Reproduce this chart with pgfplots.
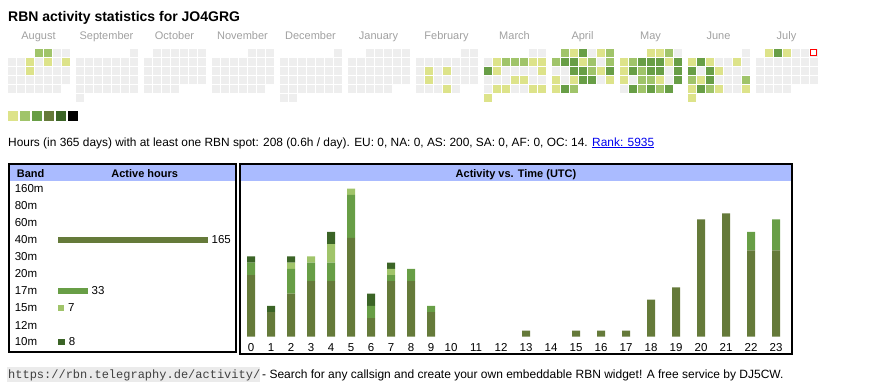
\documentclass[border=0pt]{standalone}
\usepackage{fontspec}
\setmainfont{Liberation Sans}
\setmonofont{Liberation Mono}
\usepackage{pgfplots}
\usepackage{pgfplotstable}
\pgfplotsset{compat=1.18}
\definecolor{lv0}{RGB}{238,238,238}
\definecolor{lv1}{RGB}{221,227,138}
\definecolor{lv2}{RGB}{160,196,106}
\definecolor{lv3}{RGB}{104,158,70}
\definecolor{lv4}{RGB}{101,122,58}
\definecolor{lv5}{RGB}{59,100,38}
\definecolor{lv6}{RGB}{0,0,0}
\definecolor{hdr}{RGB}{170,187,255}
\definecolor{monthgray}{RGB}{160,160,160}
\definecolor{linkblue}{RGB}{0,0,238}

\pgfplotsset{
  levels/.style={scatter, only marks, point meta=explicit symbolic,
    mark options={line width=0.3pt},
    scatter/classes={
      0={mark=square*, lv0},
      1={mark=square*, lv1},
      2={mark=square*, lv2},
      3={mark=square*, lv3},
      4={mark=square*, lv4},
      5={mark=square*, lv5},
      6={mark=square*, lv6}}}
}

% calendar: m = month block (0 = August ... 11 = July), r = week row, c1..c7 = Mon..Sun level (-1 = no day)
\pgfplotstableread{
m r c1 c2 c3 c4 c5 c6 c7
0 1 -1 -1 -1 2 2 0 0
0 2 0 0 1 0 1 0 1
0 3 0 0 1 0 0 0 0
0 4 0 0 0 0 0 0 0
0 5 0 0 0 0 0 0 -1
1 1 -1 -1 -1 -1 -1 -1 0
1 2 0 0 0 0 0 0 0
1 3 0 0 0 0 0 0 0
1 4 0 0 0 0 0 0 0
1 5 0 0 0 0 0 0 0
1 6 0 -1 -1 -1 -1 -1 -1
2 1 -1 0 0 0 0 0 0
2 2 0 0 0 0 0 0 0
2 3 0 0 0 0 0 0 0
2 4 0 0 0 0 0 0 0
2 5 0 0 0 0 -1 -1 -1
3 1 -1 -1 -1 -1 0 0 0
3 2 0 0 0 0 0 0 0
3 3 0 0 0 0 0 0 0
3 4 0 0 0 0 0 0 0
3 5 0 0 0 0 0 0 -1
4 1 -1 -1 -1 -1 -1 -1 0
4 2 0 0 0 0 0 0 0
4 3 0 0 0 0 0 0 0
4 4 0 0 0 0 0 0 0
4 5 0 0 0 0 0 0 0
4 6 0 0 -1 -1 -1 -1 -1
5 1 -1 -1 0 0 0 0 0
5 2 0 0 0 0 0 0 0
5 3 0 0 0 0 0 0 0
5 4 0 0 0 0 0 0 0
5 5 0 0 0 0 0 -1 -1
6 1 -1 -1 -1 -1 -1 0 0
6 2 0 0 0 0 0 0 0
6 3 0 1 0 1 0 0 0
6 4 0 1 0 0 0 0 0
6 5 0 0 0 1 0 -1 -1
7 1 -1 -1 -1 -1 -1 0 0
7 2 0 1 2 2 2 1 1
7 3 3 1 0 0 0 0 1
7 4 0 0 0 1 1 0 0
7 5 0 1 1 0 0 1 1
7 6 1 -1 -1 -1 -1 -1 -1
8 1 -1 2 1 3 0 1 2
8 2 2 3 3 1 2 0 2
8 3 0 0 3 3 2 1 3
8 4 1 0 1 3 3 0 1
8 5 1 3 2 -1 -1 -1 -1
9 1 -1 -1 -1 1 1 2 0
9 2 1 2 3 3 3 1 3
9 3 1 3 2 3 3 0 3
9 4 1 0 2 2 1 0 3
9 5 0 3 2 3 2 3 -1
10 1 -1 -1 -1 -1 -1 -1 0
10 2 1 3 1 0 0 1 0
10 3 3 0 3 1 0 0 0
10 4 2 1 3 0 0 0 2
10 5 1 3 2 1 0 0 1
10 6 1 -1 -1 -1 -1 -1 -1
11 1 -1 1 3 1 0 0 0
11 2 0 0 0 0 0 0 0
11 3 0 0 0 0 0 0 0
11 4 0 0 0 0 0 0 0
11 5 0 0 0 0 -1 -1 -1
}\heat

\begin{document}
\begin{tikzpicture}
\useasboundingbox (0,0) rectangle (870pt,-390pt);
% ---------- page-level axis in pixel units: calendar heat map, texts, frames
\begin{axis}[at={(0pt,0pt)}, anchor=north west, scale only axis,
  width=870pt, height=390pt, xmin=0, xmax=870, ymin=0, ymax=390, y dir=reverse,
  hide axis, clip=false]
\pgfplotsinvokeforeach{1,...,7}{
  \addplot[levels, mark size=3.55pt]
    table[x expr={11.5+9*(#1-1)+68*\thisrow{m}}, y expr={52.3+9*(\thisrow{r}-1)},
          meta=c#1, restrict expr to domain={\thisrow{c#1}}{0:6}] {\heat};
}
% today
\addplot[only marks, mark=square*, mark size=3.3pt,
  mark options={draw=red, fill=white, line width=0.9pt}] coordinates {(813.5,52.3)};
% legend squares
\addplot[levels, mark size=4.6pt]
  coordinates {(12.8,116) [1] (24.8,116) [2] (36.8,116) [3] (48.8,116) [4] (60.8,116) [5] (72.8,116) [6]};

% title and month names
\node[anchor=base west, inner sep=0pt, font=\fontsize{14}{17}\selectfont\bfseries] at (8,21.5) {RBN activity statistics for JO4GRG};
\node[anchor=base, inner sep=0pt, text=monthgray, font=\fontsize{11}{13}\selectfont] at (38.5,39) {August};
\node[anchor=base, inner sep=0pt, text=monthgray, font=\fontsize{11}{13}\selectfont] at (106.5,39) {September};
\node[anchor=base, inner sep=0pt, text=monthgray, font=\fontsize{11}{13}\selectfont] at (174.5,39) {October};
\node[anchor=base, inner sep=0pt, text=monthgray, font=\fontsize{11}{13}\selectfont] at (242.5,39) {November};
\node[anchor=base, inner sep=0pt, text=monthgray, font=\fontsize{11}{13}\selectfont] at (310.5,39) {December};
\node[anchor=base, inner sep=0pt, text=monthgray, font=\fontsize{11}{13}\selectfont] at (378.5,39) {January};
\node[anchor=base, inner sep=0pt, text=monthgray, font=\fontsize{11}{13}\selectfont] at (446.5,39) {February};
\node[anchor=base, inner sep=0pt, text=monthgray, font=\fontsize{11}{13}\selectfont] at (514.5,39) {March};
\node[anchor=base, inner sep=0pt, text=monthgray, font=\fontsize{11}{13}\selectfont] at (582.5,39) {April};
\node[anchor=base, inner sep=0pt, text=monthgray, font=\fontsize{11}{13}\selectfont] at (650.5,39) {May};
\node[anchor=base, inner sep=0pt, text=monthgray, font=\fontsize{11}{13}\selectfont] at (718.5,39) {June};
\node[anchor=base, inner sep=0pt, text=monthgray, font=\fontsize{11}{13}\selectfont] at (786.5,39) {July};
% info line
\node[anchor=base west, inner sep=0pt, font=\fontsize{11.9}{14}\selectfont] at (8,146)
  {Hours (in 365 days) with at least one RBN spot: 208 (0.6h / day). EU: 0, NA: 0, AS: 200, SA: 0, AF: 0, OC: 14. \textcolor{linkblue}{\underline{Rank: 5935}}};

% panels
\fill[hdr] (10.3,165.3) rectangle (235.3,181);
\fill[hdr] (241.3,165.3) rectangle (790.7,181);
\draw[line width=2pt] (9.3,164.3) rectangle (236.3,351.7);
\draw[line width=2pt] (240.3,164.3) rectangle (791.7,354.3);
\node[anchor=base west, inner sep=0pt, font=\fontsize{11}{13}\selectfont\bfseries] at (16.7,177) {Band};
\node[anchor=base, inner sep=0pt, font=\fontsize{11}{13}\selectfont\bfseries] at (144.7,177) {Active hours};
\node[anchor=base, inner sep=0pt, font=\fontsize{11}{13}\selectfont\bfseries] at (516,177) {Activity vs. Time (UTC)};

% footer
\fill[black!8] (7,367) rectangle (260,381.5);
\node[anchor=base west, inner sep=0pt, text=black!75, font=\fontsize{12}{14}\ttfamily] at (8,378) {https://rbn.telegraphy.de/activity/};
\node[anchor=base west, inner sep=0pt, font=\fontsize{12}{14}\selectfont] at (262,378) {- Search for any callsign and create your own embeddable RBN widget! A free service by DJ5CW.};
\end{axis}

% ---------- active hours per band
\begin{axis}[at={(58pt,-350pt)}, anchor=south west, scale only axis,
  width=150pt, height=170pt, xmin=0, xmax=165, ymin=180, ymax=350, y dir=reverse,
  xbar, bar width=6pt, clip=false,
  axis lines=left, axis line style={draw=none,-}, xtick=\empty,
  ytick={189,206,223,240,257,274,291,308,325,342},
  yticklabels={160m,80m,60m,40m,30m,20m,17m,15m,12m,10m},
  ytick style={draw=none},
  yticklabel style={anchor=west, inner sep=0pt, xshift=-41.3pt, font=\fontsize{11.5}{13}\selectfont},
  point meta=x, nodes near coords,
  nodes near coords style={font=\fontsize{11.5}{13}\selectfont, anchor=west, inner sep=3.5pt},
  /pgf/number format/assume math mode=true]
\addplot[fill=lv4, draw=none, bar shift=0pt] coordinates {(165,240)};
\addplot[fill=lv3, draw=none, bar shift=0pt] coordinates {(33,291)};
\addplot[fill=lv2, draw=none, bar shift=0pt] coordinates {(7,308)};
\addplot[fill=lv5, draw=none, bar shift=0pt] coordinates {(8,342)};
\end{axis}

% ---------- activity vs time (UTC), stacked by band
\begin{axis}[at={(241pt,-336.7pt)}, anchor=south west, scale only axis,
  width=551pt, height=154.25pt, xmin=241, xmax=792, ymin=0, ymax=25,
  ybar stacked, bar width=8pt, clip=false,
  axis lines=left, axis line style={draw=none,-}, ytick=\empty,
  xtick={251,271,291,311,331,351,371,391,411,431,451,476,501,526,551,576,601,626,651,676,701,726,751,776},
  xticklabels={0,1,2,3,4,5,6,7,8,9,10,11,12,13,14,15,16,17,18,19,20,21,22,23},
  xtick style={draw=none},
  xticklabel style={font=\fontsize{11.5}{13}\selectfont, anchor=base, inner sep=0pt, yshift=-12.5pt}]
% 40m
\addplot[fill=lv4, draw=none] coordinates {(251,10) (271,4) (291,7) (311,9) (331,9) (351,16) (371,3) (391,9) (411,9) (431,4) (451,0) (476,0) (501,0) (526,1) (551,0) (576,1) (601,1) (626,1) (651,6) (676,8) (701,19) (726,20) (751,14) (776,14)};
% 17m
\addplot[fill=lv3, draw=none] coordinates {(251,2) (271,0) (291,4) (311,3) (331,3) (351,7) (371,2) (391,1) (411,2) (431,1) (451,0) (476,0) (501,0) (526,0) (551,0) (576,0) (601,0) (626,0) (651,0) (676,0) (701,0) (726,0) (751,3) (776,5)};
% 15m
\addplot[fill=lv2, draw=none] coordinates {(251,0) (271,0) (291,1) (311,1) (331,3) (351,1) (371,0) (391,1) (411,0) (431,0) (451,0) (476,0) (501,0) (526,0) (551,0) (576,0) (601,0) (626,0) (651,0) (676,0) (701,0) (726,0) (751,0) (776,0)};
% 10m
\addplot[fill=lv5, draw=none] coordinates {(251,1) (271,1) (291,1) (311,0) (331,2) (351,0) (371,2) (391,1) (411,0) (431,0) (451,0) (476,0) (501,0) (526,0) (551,0) (576,0) (601,0) (626,0) (651,0) (676,0) (701,0) (726,0) (751,0) (776,0)};
\end{axis}
\end{tikzpicture}
\end{document}
